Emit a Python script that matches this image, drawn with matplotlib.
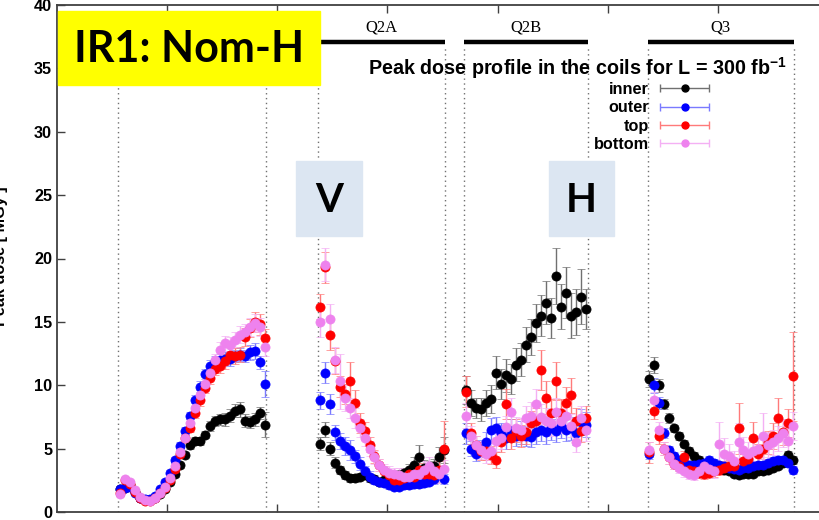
import matplotlib
matplotlib.use("Agg")
import matplotlib.pyplot as plt
from matplotlib.patches import Rectangle
from matplotlib.legend_handler import HandlerErrorbar
import numpy as np

plt.rcParams['font.family'] = ['Liberation Sans', 'DejaVu Sans']
plt.rcParams['mathtext.fontset'] = 'custom'
plt.rcParams['mathtext.bf'] = 'Liberation Sans:bold'
plt.rcParams['mathtext.default'] = 'bf'

# magnet extents along the beam line [m]
magnets = ['Q1', 'Q2A', 'Q2B', 'Q3']
mag_start = [15.55, 33.70, 46.95, 63.65]
mag_end = [28.98, 45.23, 58.20, 76.90]
# range covered by the scoring bins inside each magnet
bin_first = [15.75, 33.90, 47.15, 63.75]
bin_last = [28.85, 45.10, 58.00, 76.85]

# peak dose [MGy], one list per coil position and magnet
inner_q1 = [1.8, 1.9, 2.1, 1.6, 1.1, 0.95, 0.95, 1.1, 1.4, 1.8, 2.4, 3.0, 3.7, 4.5, 5.3,
            5.6, 5.6, 6.1, 6.8, 7.2, 7.3, 7.3, 7.6, 8.0, 8.1, 7.2, 7.1, 7.3, 7.8, 6.9]
outer_q1 = [1.8, 1.9, 2.0, 1.5, 1.1, 1.0, 1.0, 1.3, 1.8, 2.4, 3.1, 4.1, 5.2, 6.4, 7.6,
            8.8, 9.9, 10.9, 11.5, 11.8, 12.0, 12.1, 12.1, 12.3, 12.4, 12.3, 12.6, 12.7, 11.8, 10.1]
top_q1 = [1.5, 2.5, 2.2, 1.6, 1.1, 0.9, 0.9, 1.1, 1.5, 1.9, 2.5, 3.4, 4.6, 5.8, 6.6,
          7.8, 8.8, 9.8, 10.6, 11.3, 11.5, 11.9, 12.4, 12.3, 12.4, 13.8, 14.5, 15.0, 14.8, 13.7]
bottom_q1 = [1.4, 2.6, 2.4, 1.7, 1.2, 0.95, 0.9, 1.1, 1.5, 2.0, 2.7, 3.6, 4.7, 5.8, 7.0,
             8.2, 9.2, 10.1, 11.0, 12.0, 12.8, 13.3, 13.2, 13.6, 14.0, 14.2, 14.6, 14.9, 14.6, 13.0]

inner_q2a = [5.4, 6.5, 5.0, 3.9, 3.3, 2.9, 2.7, 2.7, 2.8, 2.9, 2.7, 2.6, 2.4,
             2.5, 2.7, 2.8, 2.9, 3.1, 3.3, 3.7, 4.3, 3.5, 3.4, 3.6, 4.3, 4.9]
outer_q2a = [8.8, 11.0, 8.5, 6.3, 5.6, 5.2, 4.9, 4.4, 3.8, 3.2, 2.8, 2.5, 2.4,
             2.3, 2.1, 2.0, 2.0, 2.1, 2.1, 2.2, 2.2, 2.3, 2.4, 2.6, 3.2, 2.6]
top_q2a = [16.2, 19.3, 14.0, 11.9, 9.9, 9.3, 10.3, 8.6, 7.0, 6.4, 5.3, 4.4, 3.7,
           3.2, 2.9, 2.5, 2.5, 2.7, 3.0, 2.8, 3.3, 3.0, 3.0, 2.9, 3.3, 5.0]
bottom_q2a = [15.0, 19.5, 15.2, 12.0, 10.3, 9.0, 8.2, 7.4, 6.6, 5.8, 5.0, 4.3, 3.7,
              3.3, 3.1, 3.0, 2.9, 2.8, 2.8, 3.0, 3.0, 3.3, 3.6, 3.2, 3.0, 3.4]

inner_q2b = [9.6, 8.6, 8.2, 8.1, 8.6, 8.9, 11.0, 10.1, 10.8, 10.5, 11.6, 12.0, 13.2,
             13.8, 14.9, 15.5, 16.5, 15.3, 18.6, 16.2, 17.3, 15.5, 15.8, 17.0, 16.0]
outer_q2b = [6.2, 5.0, 4.6, 5.0, 5.5, 6.5, 6.6, 6.2, 5.8, 6.4, 6.0, 6.3, 6.0,
             5.9, 6.3, 6.5, 6.3, 6.6, 6.4, 6.8, 6.5, 6.6, 6.2, 7.1, 6.9]
top_q2b = [9.5, 6.2, 5.3, 4.8, 4.8, 4.5, 4.1, 5.5, 8.5, 5.8, 6.4, 6.0, 6.3,
           7.0, 7.2, 11.2, 9.0, 7.8, 10.3, 7.8, 8.6, 9.2, 7.2, 6.4, 7.4]
bottom_q2b = [7.6, 6.0, 5.3, 4.9, 4.6, 4.8, 5.6, 5.8, 6.7, 7.9, 6.6, 6.5, 7.4,
              7.6, 8.5, 7.5, 7.2, 7.0, 7.9, 7.2, 7.6, 6.8, 5.5, 7.4, 6.5]

inner_q3 = [10.5, 11.6, 10.0, 8.5, 7.4, 6.6, 6.0, 5.4, 4.8, 4.4, 4.1, 3.8, 3.6, 3.5, 3.4,
            3.3, 3.2, 3.0, 2.9, 3.0, 3.0, 3.0, 3.2, 3.2, 3.3, 3.5, 3.6, 3.9, 4.5, 4.1]
outer_q3 = [4.6, 10.0, 8.6, 6.2, 4.9, 4.4, 4.1, 3.9, 3.7, 3.7, 3.8, 3.9, 4.1, 3.9, 3.7,
            3.6, 3.5, 3.4, 3.3, 3.5, 3.5, 3.6, 3.7, 3.7, 3.9, 4.0, 4.1, 4.1, 3.9, 3.3]
top_q3 = [4.7, 8.0, 6.0, 5.0, 4.3, 3.8, 3.6, 4.3, 3.3, 3.2, 3.1, 3.0, 3.1, 3.2, 3.3,
          3.5, 3.6, 3.6, 6.6, 4.0, 4.2, 5.8, 4.6, 5.0, 5.5, 6.0, 7.4, 6.3, 7.0, 10.7]
bottom_q3 = [4.9, 8.8, 6.5, 5.0, 4.3, 3.8, 3.5, 3.2, 3.0, 2.9, 3.2, 3.6, 3.4, 3.2, 5.4,
             4.6, 4.4, 4.0, 5.5, 4.9, 4.6, 4.8, 5.0, 6.0, 5.3, 5.5, 5.8, 6.2, 5.6, 6.8]

# statistical errors [MGy]
inner_q1_err = [0.1, 0.1, 0.1, 0.1, 0.1, 0.1, 0.1, 0.1, 0.1, 0.1, 0.1, 0.2, 0.2, 0.2, 0.3,
                0.3, 0.3, 0.3, 0.4, 0.4, 0.4, 0.5, 0.5, 0.5, 0.6, 0.5, 0.5, 0.5, 0.5, 1.0]
outer_q1_err = [0.1, 0.1, 0.1, 0.1, 0.1, 0.1, 0.1, 0.1, 0.1, 0.2, 0.2, 0.2, 0.3, 0.3, 0.3,
                0.4, 0.4, 0.4, 0.5, 0.5, 0.5, 0.5, 0.6, 0.5, 0.5, 0.5, 0.6, 0.6, 0.5, 1.0]
top_q1_err = [0.1, 0.1, 0.1, 0.1, 0.1, 0.1, 0.1, 0.1, 0.1, 0.2, 0.2, 0.2, 0.3, 0.3, 0.3,
              0.4, 0.4, 0.4, 0.5, 0.5, 0.5, 0.6, 0.6, 0.6, 0.6, 0.7, 0.7, 0.8, 0.8, 0.7]
bottom_q1_err = [0.1, 0.1, 0.1, 0.1, 0.1, 0.1, 0.1, 0.1, 0.1, 0.2, 0.2, 0.2, 0.3, 0.3, 0.3,
                 0.4, 0.4, 0.4, 0.5, 0.5, 0.6, 0.6, 0.6, 0.6, 0.7, 0.6, 0.7, 0.7, 0.7, 0.7]

inner_q2a_err = [0.5, 0.6, 0.5, 0.4, 0.3, 0.3, 0.3, 0.3, 0.3, 0.3, 0.3, 0.3, 0.3,
                 0.3, 0.3, 0.4, 0.4, 0.4, 0.5, 0.6, 1.0, 0.6, 0.6, 0.6, 0.8, 1.0]
outer_q2a_err = [0.7, 0.8, 0.8, 0.6, 0.6, 0.7, 0.8, 0.5, 0.5, 0.4, 0.4, 0.3, 0.3,
                 0.3, 0.3, 0.3, 0.3, 0.3, 0.3, 0.3, 0.3, 0.3, 0.3, 0.4, 0.4, 0.4]
top_q2a_err = [1.0, 1.2, 1.2, 1.0, 0.8, 0.8, 1.5, 1.0, 0.8, 0.7, 0.6, 0.5, 0.5,
               0.4, 0.4, 0.4, 0.4, 0.5, 0.5, 0.5, 0.6, 0.6, 0.6, 0.6, 0.7, 2.2]
bottom_q2a_err = [1.2, 1.3, 1.2, 1.0, 2.2, 1.0, 0.8, 0.8, 0.7, 0.6, 0.6, 0.5, 0.5,
                  0.5, 0.5, 0.5, 0.6, 0.6, 0.6, 0.6, 0.7, 0.7, 0.7, 0.7, 0.7, 0.7]

inner_q2b_err = [1.1, 1.0, 0.8, 0.9, 1.0, 1.1, 1.3, 1.2, 1.3, 1.2, 1.3, 1.3, 1.4,
                 1.4, 1.5, 1.6, 1.7, 1.6, 2.2, 1.8, 2.0, 1.8, 1.8, 2.2, 1.6]
outer_q2b_err = [0.8, 0.6, 0.6, 0.7, 0.8, 0.9, 0.9, 0.8, 0.8, 0.9, 0.8, 0.9, 0.8,
                 0.8, 0.9, 0.9, 0.9, 0.9, 0.9, 1.0, 0.9, 0.9, 0.9, 1.0, 1.0]
top_q2b_err = [1.2, 0.8, 0.7, 0.7, 0.7, 0.7, 0.6, 0.8, 1.2, 0.8, 0.9, 0.9, 0.9,
               1.0, 1.0, 1.6, 1.3, 1.1, 1.5, 1.1, 1.3, 1.4, 1.0, 0.9, 1.0]
bottom_q2b_err = [1.0, 0.8, 0.7, 0.7, 0.7, 0.7, 0.8, 0.8, 0.9, 1.1, 0.9, 0.9, 1.0,
                  1.1, 1.2, 1.0, 1.0, 1.0, 1.1, 1.0, 1.1, 0.9, 0.8, 1.0, 0.9]

inner_q3_err = [0.6, 0.6, 0.5, 0.4, 0.4, 0.3, 0.3, 0.3, 0.3, 0.3, 0.3, 0.2, 0.2, 0.2, 0.2,
                0.2, 0.2, 0.2, 0.2, 0.2, 0.2, 0.2, 0.2, 0.2, 0.2, 0.2, 0.2, 0.3, 0.3, 0.3]
outer_q3_err = [0.4, 0.6, 0.5, 0.4, 0.3, 0.3, 0.3, 0.3, 0.3, 0.3, 0.3, 0.3, 0.3, 0.3, 0.3,
                0.3, 0.3, 0.3, 0.3, 0.3, 0.3, 0.3, 0.3, 0.3, 0.3, 0.3, 0.3, 0.3, 0.3, 0.3]
top_q3_err = [0.8, 0.7, 0.6, 0.5, 0.5, 0.4, 0.4, 0.5, 0.4, 0.4, 0.4, 0.4, 0.4, 0.4, 0.4,
              0.5, 0.5, 0.5, 2.0, 0.6, 0.6, 1.3, 0.8, 0.8, 0.9, 1.0, 1.6, 1.0, 1.1, 3.5]
bottom_q3_err = [0.6, 0.7, 0.6, 0.5, 0.5, 0.4, 0.4, 0.4, 0.4, 0.4, 0.4, 0.5, 0.5, 0.5, 1.7,
                 1.2, 1.0, 0.8, 1.5, 1.0, 0.9, 1.0, 1.0, 1.8, 1.0, 1.0, 1.0, 1.1, 1.0, 1.1]

series = {
    'inner': ([inner_q1, inner_q2a, inner_q2b, inner_q3],
              [inner_q1_err, inner_q2a_err, inner_q2b_err, inner_q3_err], 'black', '#707070'),
    'outer': ([outer_q1, outer_q2a, outer_q2b, outer_q3],
              [outer_q1_err, outer_q2a_err, outer_q2b_err, outer_q3_err], '#0000ff', '#7a7aff'),
    'top': ([top_q1, top_q2a, top_q2b, top_q3],
            [top_q1_err, top_q2a_err, top_q2b_err, top_q3_err], '#ff0000', '#ff7a7a'),
    'bottom': ([bottom_q1, bottom_q2a, bottom_q2b, bottom_q3],
               [bottom_q1_err, bottom_q2a_err, bottom_q2b_err, bottom_q3_err], '#ee82ee', '#f4b0f4'),
}

fig = plt.figure(figsize=(8.2, 5.2), dpi=100)
ax = fig.add_axes([57 / 820, 8 / 520, 826 / 820, 507 / 520])
ax.set_xlim(10, 85)
ax.set_ylim(0, 40)

handles = []
for name, (vals, errs, mcol, ecol) in series.items():
    x = np.concatenate([np.linspace(a, b, len(v)) for a, b, v in zip(bin_first, bin_last, vals)])
    y = np.concatenate(vals)
    e = np.concatenate(errs)
    ax.errorbar(x, y, yerr=e, fmt='o', ms=6.6, mec=mcol, mfc=mcol, mew=0.5,
                ecolor=ecol, elinewidth=1, capsize=3, capthick=1)
    # proxy with a horizontal bar for the key
    h = ax.errorbar([np.nan], [np.nan], xerr=[1], fmt='o', ms=5.0, mec=mcol, mfc=mcol,
                    ecolor=ecol, elinewidth=1, capsize=3, capthick=1, label=name)
    handles.append(h)

# magnet boundaries and labels (the Q1 label sits under the banner)
for name, a, b in zip(magnets, mag_start, mag_end):
    for xb in (a, b):
        ax.plot([xb, xb], [0, 36.7], color='#707070', lw=1, ls=(0, (1, 2.5)), zorder=1)
    ax.plot([a, b], [37.1, 37.1], color='black', lw=3.2, solid_capstyle='butt', zorder=1)
    if name != 'Q1':
        ax.text((a + b) / 2, 38.2, name, ha='center', va='center', fontsize=12,
                family=['Liberation Serif', 'DejaVu Serif'])

ax.set_yticks(range(0, 41, 5))
ax.set_xticks(range(20, 81, 10))
ax.set_xticklabels([])
ax.tick_params(axis='both', direction='in', length=6, width=1, colors='#404040',
               top=True, labelsize=11.7, labelcolor='black')
for lab in ax.get_yticklabels():
    lab.set_fontweight('bold')
for s in ax.spines.values():
    s.set_color('#404040')
    s.set_linewidth(1.3)

fig.text(1 / 820, 1 - 256 / 520, 'Peak dose [ MGy ]', rotation=90, ha='center', va='center',
         fontsize=11.7, fontweight='bold')
fig.text(787 / 820, 1 - 68 / 520, 'Peak dose profile in the coils for L = 300 fb$^{-1}$',
         ha='right', va='center', fontsize=14.2, fontweight='bold')

ax.legend(handles=handles, loc='upper right', bbox_to_anchor=(709 / 820, 1 - 82 / 520),
          bbox_transform=fig.transFigure, frameon=False, markerfirst=False,
          prop={'weight': 'bold', 'size': 11.7}, handlelength=3.0, handletextpad=0.7,
          labelspacing=0.2, borderpad=0, borderaxespad=0,
          handler_map={type(handles[0]): HandlerErrorbar(xerr_size=1.5)})

# annotation boxes
fig.add_artist(Rectangle((58 / 820, 1 - 85 / 520), 262 / 820, 74 / 520,
                         transform=fig.transFigure, color='#ffff00', zorder=5))
fig.text(189 / 820, 1 - 49 / 520, 'IR1: Nom-H', ha='center', va='center', fontsize=31,
         fontweight='bold', family=['Lato', 'DejaVu Sans'], zorder=6)
for lab, x0, x1 in (('V', 296, 362), ('H', 549, 614)):
    fig.add_artist(Rectangle((x0 / 820, 1 - 236 / 520), (x1 - x0) / 820, 75 / 520,
                             transform=fig.transFigure, color='#dce6f2', zorder=5))
    fig.text((x0 + x1) / 2 / 820, 1 - 200 / 520, lab, ha='center', va='center', fontsize=29,
             fontweight='bold', family=['Lato', 'DejaVu Sans'], zorder=6)

fig.savefig('out.png', dpi=100)
